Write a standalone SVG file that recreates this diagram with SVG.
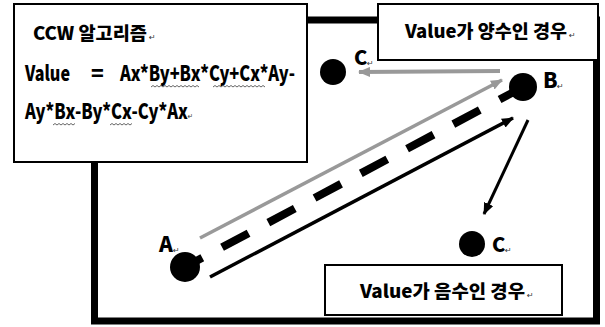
<svg xmlns="http://www.w3.org/2000/svg" width="605" height="327" viewBox="0 0 605 327">
<defs>
<style>
.t{font-family:"Noto Sans CJK KR","Liberation Sans",sans-serif;font-weight:900;fill:#000}
.rt{font-family:"DejaVu Sans",sans-serif;font-size:8px;fill:#333;font-weight:normal}
.box{fill:#fff;stroke:#000;stroke-width:2}
.pt{fill:#000}
.sq{fill:none;stroke:#666;stroke-width:1}
</style>
<marker id="ah" markerUnits="userSpaceOnUse" markerWidth="12" markerHeight="10" refX="11" refY="5" orient="auto">
<path d="M0,0 L12,5 L0,10 z" fill="#000"/>
</marker>
<marker id="ahg" markerUnits="userSpaceOnUse" markerWidth="12" markerHeight="10" refX="11" refY="5" orient="auto">
<path d="M0,0 L12,5 L0,10 z" fill="#999"/>
</marker>
</defs>
<rect width="605" height="327" fill="#fff"/>
<g id="frame"><rect x="94.5" y="20" width="502" height="301" fill="none" stroke="#000" stroke-width="7"/></g>

<g id="algo-box">
<rect class="box" x="14" y="4" width="293" height="158"/>
<text class="t" x="33" y="40" font-size="18" textLength="114" lengthAdjust="spacingAndGlyphs">CCW 알고리즘</text><text class="rt" x="149" y="40">↵</text>
<text class="t" x="25" y="81" font-size="21" textLength="45" lengthAdjust="spacingAndGlyphs">Value</text>
<text class="t" x="91" y="81" font-size="21">=</text>
<text class="t" x="120" y="81" font-size="21" textLength="175" lengthAdjust="spacingAndGlyphs">Ax*By+Bx*Cy+Cx*Ay-</text>
<text class="t" x="25" y="119" font-size="21" textLength="168" lengthAdjust="spacingAndGlyphs">Ay*Bx-By*Cx-Cy*Ax<tspan class="rt">↵</tspan></text>
<path class="sq" d="M151,87 l2,-1.5 l2,1.5 l2,-1.5 l2,1.5 l2,-1.5 l2,1.5 l2,-1.5 l2,1.5 l2,-1.5 l2,1.5 l2,-1.5 l2,1.5 l2,-1.5 l2,1.5 l2,-1.5 l2,1.5 l2,-1.5 l2,1.5 l2,-1.5 l2,1.5 l2,-1.5 l2,1.5 l2,-1.5 l2,1.5"/>
<path class="sq" d="M213,87 l2,-1.5 l2,1.5 l2,-1.5 l2,1.5 l2,-1.5 l2,1.5 l2,-1.5 l2,1.5 l2,-1.5 l2,1.5 l2,-1.5 l2,1.5 l2,-1.5 l2,1.5 l2,-1.5 l2,1.5 l2,-1.5 l2,1.5 l2,-1.5 l2,1.5 l2,-1.5 l2,1.5 l2,-1.5 l2,1.5 l2,-1.5 l2,1.5"/>
<path class="sq" d="M53,125 l2,-1.5 l2,1.5 l2,-1.5 l2,1.5 l2,-1.5 l2,1.5 l2,-1.5 l2,1.5 l2,-1.5 l2,1.5 l2,-1.5"/>
<path class="sq" d="M110,125 l2,-1.5 l2,1.5 l2,-1.5 l2,1.5 l2,-1.5 l2,1.5 l2,-1.5 l2,1.5 l2,-1.5 l2,1.5 l2,-1.5"/>
</g>

<g id="pos-box">
<rect class="box" x="378" y="4" width="220" height="56"/>
<text class="t" x="405" y="38" font-size="18" textLength="162" lengthAdjust="spacingAndGlyphs">Value가 양수인 경우</text><text class="rt" x="569" y="38">↵</text>
</g>

<g id="neg-box">
<rect class="box" x="325" y="265" width="237" height="50"/>
<text class="t" x="360" y="298" font-size="18" textLength="165" lengthAdjust="spacingAndGlyphs">Value가 음수인 경우</text><text class="rt" x="527" y="298">↵</text>
</g>

<g id="connectors">
<line x1="500" y1="71" x2="359" y2="72" stroke="#999" stroke-width="4" marker-end="url(#ahg)"/>
<line x1="200" y1="238" x2="502" y2="80" stroke="#999" stroke-width="3.5" marker-end="url(#ahg)"/>
<line x1="185" y1="267" x2="523" y2="87" stroke="#000" stroke-width="8" stroke-dasharray="30 22.4" stroke-dashoffset="10.4"/>
<line x1="210" y1="277" x2="513" y2="118" stroke="#000" stroke-width="3.5" marker-end="url(#ah)"/>
<line x1="528" y1="120" x2="484" y2="214" stroke="#000" stroke-width="3" marker-end="url(#ah)"/>
</g>

<g id="node-c-top">
<circle class="pt" cx="333" cy="72" r="13"/>
<text class="t" x="354" y="65" font-size="20">C</text><text class="rt" x="367" y="66">↵</text>
</g>
<g id="node-b">
<circle class="pt" cx="523" cy="87" r="14"/>
<text class="t" x="543" y="88" font-size="21">B</text><text class="rt" x="557" y="89">↵</text>
</g>
<g id="node-a">
<circle class="pt" cx="185" cy="267" r="15"/>
<text class="t" x="159" y="252" font-size="21">A</text><text class="rt" x="173" y="253">↵</text>
</g>
<g id="node-c-bottom">
<circle class="pt" cx="472" cy="244" r="13"/>
<text class="t" x="492" y="252" font-size="20">C</text><text class="rt" x="505" y="253">↵</text>
</g>
</svg>
